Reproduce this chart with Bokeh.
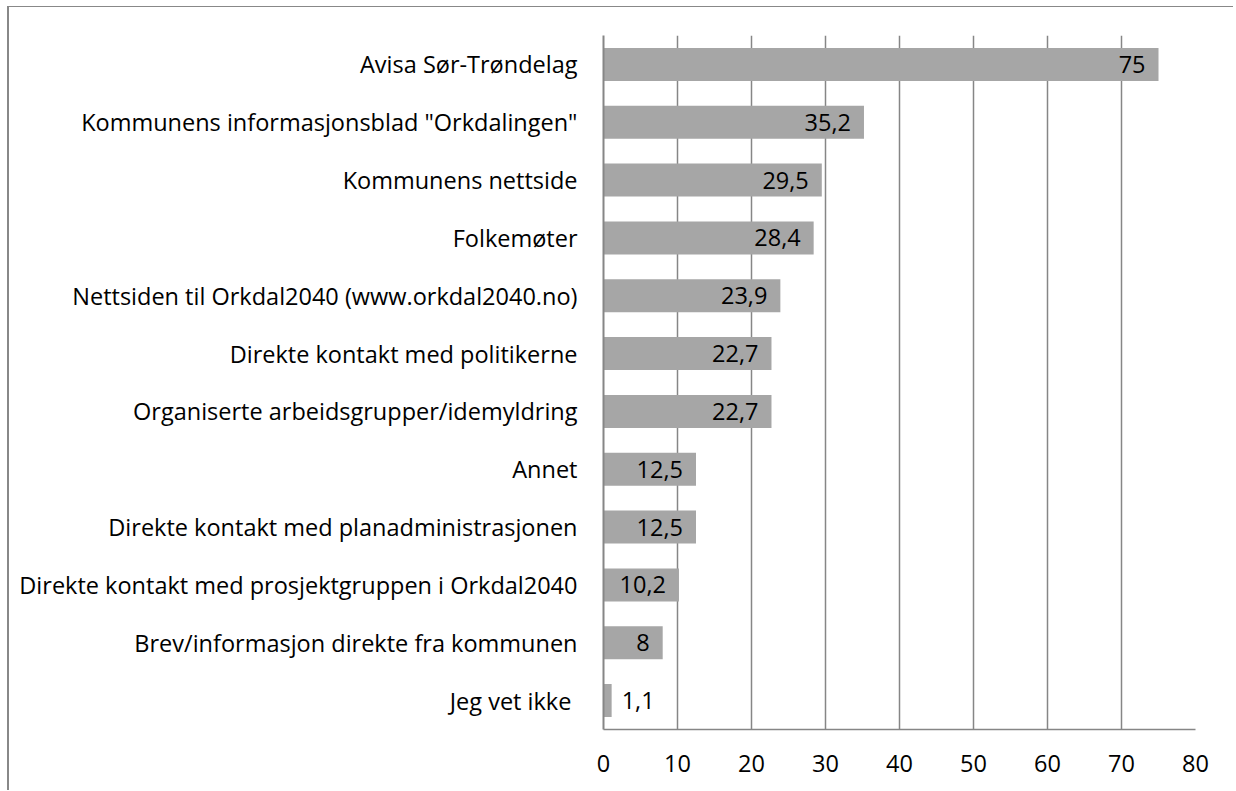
from bokeh.plotting import figure
from bokeh.models import ColumnDataSource, FixedTicker, Range1d
from bokeh.core.properties import value
from bokeh.embed import file_html
from bokeh.resources import INLINE

categories = [
    "Avisa Sør-Trøndelag",
    'Kommunens informasjonsblad "Orkdalingen"',
    "Kommunens nettside",
    "Folkemøter",
    "Nettsiden til Orkdal2040 (www.orkdal2040.no)",
    "Direkte kontakt med politikerne",
    "Organiserte arbeidsgrupper/idemyldring",
    "Annet",
    "Direkte kontakt med planadministrasjonen",
    "Direkte kontakt med prosjektgruppen i Orkdal2040",
    "Brev/informasjon direkte fra kommunen",
    "Jeg vet ikke ",
]
values = [75, 35.2, 29.5, 28.4, 23.9, 22.7, 22.7, 12.5, 12.5, 10.2, 8, 1.1]
x_ticks = [0, 10, 20, 30, 40, 50, 60, 70, 80]

FONT = "Open Sans"
FS = "23.5px"
GRID = "#868686"
BAR = "#a6a6a6"

labels = [("%g" % v).replace(".", ",") for v in values]
aligns = ["right" if v > 5 else "left" for v in values]
offsets = [-13 if v > 5 else 10 for v in values]

src = ColumnDataSource(dict(cat=categories, val=values, lab=labels,
                            align=aligns, off=offsets))

p = figure(width=1226, height=784, y_range=list(reversed(categories)),
           x_range=Range1d(0, 80), output_backend="svg", toolbar_location=None,
           min_border_left=594, min_border_right=40, min_border_top=28,
           min_border_bottom=62)
p.styles = {"border-left": "2px solid #888888", "border-top": "1px solid #888888",
            "margin-left": "7px", "margin-top": "6px"}
p.outline_line_color = None
p.background_fill_color = "white"
p.border_fill_color = "white"

p.hbar(y="cat", right="val", left=0, height=0.57, source=src,
       fill_color=BAR, line_color=None)
p.text(x="val", y="cat", text="lab", source=src, text_align="align",
       x_offset="off", text_baseline="middle", text_font=value(FONT),
       text_font_size=FS, text_color="black")

p.xaxis.ticker = FixedTicker(ticks=x_ticks)
p.xaxis.major_tick_line_color = None
p.xaxis.minor_tick_line_color = None
p.xaxis.axis_line_color = GRID
p.xaxis.axis_line_width = 1.5
p.xaxis.major_label_text_font = FONT
p.xaxis.major_label_text_font_size = FS
p.xaxis.major_label_text_color = "black"
p.xaxis.major_label_standoff = 19

p.yaxis.major_tick_line_color = None
p.yaxis.minor_tick_line_color = None
p.yaxis.axis_line_color = GRID
p.yaxis.axis_line_width = 2
p.yaxis.major_label_text_font = FONT
p.yaxis.major_label_text_font_size = FS
p.yaxis.major_label_text_color = "black"
p.yaxis.major_label_standoff = 20

p.xgrid.ticker = FixedTicker(ticks=x_ticks)
p.xgrid.grid_line_color = GRID
p.xgrid.grid_line_width = 1.5
p.ygrid.grid_line_color = None
p.y_range.range_padding = 0

open("out.html", "w").write(file_html(p, INLINE))
